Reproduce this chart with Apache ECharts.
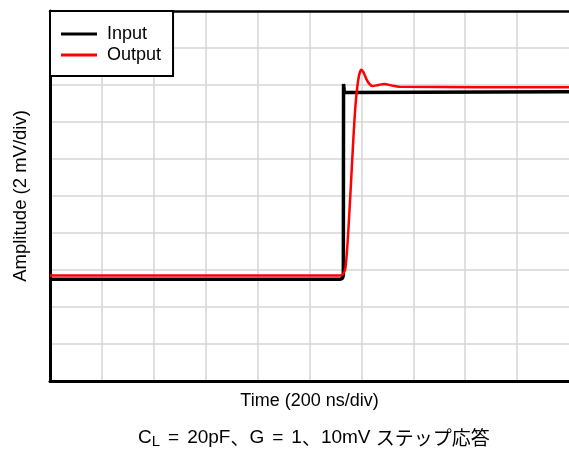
<!DOCTYPE html>
<html>
<head>
<meta charset="utf-8">
<script src="https://cdn.jsdelivr.net/npm/echarts@6/dist/echarts.min.js"></script>
<style>
html,body{margin:0;padding:0;background:#fff;}
#c{width:569px;height:451px;}
</style>
</head>
<body>
<div id="c"></div>
<script>
// Time in divisions (200 ns/div), amplitude in divisions (2 mV/div)
var inputTime = [0, 5.596, 5.635, 5.652, 5.656, 5.672, 10];
var inputAmp  = [2.75, 2.75, 2.78, 2.85, 8.03, 7.80, 7.82];

var outputTime = [0, 5.596, 5.654, 5.692, 5.731, 5.769, 5.808, 5.846, 5.885, 5.923, 5.962, 6.0, 6.038, 6.096, 6.154, 6.212, 6.327, 6.442, 6.577, 6.731, 10];
var outputAmp  = [2.85, 2.85, 2.91, 3.05, 3.68, 4.57, 5.57, 6.57, 7.43, 7.97, 8.30, 8.41, 8.35, 8.16, 8.03, 7.97, 8.0, 8.03, 7.99, 7.95, 7.94];

var seriesNames = ['Input', 'Output'];
var xAxisTitle = 'Time (200 ns/div)';
var yAxisTitle = 'Amplitude (2 mV/div)';

function pairs(xs, ys) {
  var out = [];
  for (var i = 0; i < xs.length; i++) out.push([xs[i], ys[i]]);
  return out;
}

var FONT = '"Liberation Sans", Arial, "Noto Sans CJK JP", sans-serif';
var JFONT = '"Noto Sans CJK JP", sans-serif';
var chart = echarts.init(document.getElementById('c'), null, {renderer: 'canvas'});
chart.setOption({
  animation: false,
  backgroundColor: '#fff',
  textStyle: {fontFamily: FONT},
  title: {
    left: 138,
    top: 427,
    padding: 0,
    text: '{a|C}{s|L}{sp| }{a|=}{sp| }{a|20pF}{j|、}{a|G}{sp| }{a|=}{sp| }{a|1}{j|、}{a|10mV }{j|ステップ応答}',
    textStyle: {
      fontWeight: 'normal',
      rich: {
        a: {fontSize: 19, color: '#000', fontFamily: FONT, fontWeight: 'normal'},
        s: {fontSize: 15, color: '#000', fontFamily: FONT, fontWeight: 'normal', padding: [7, 0, 0, 0]},
        sp: {fontSize: 19, fontFamily: FONT, width: 8},
        j: {fontSize: 19, color: '#000', fontFamily: JFONT, fontWeight: 'normal'}
      }
    }
  },
  legend: {
    left: 50,
    top: 11,
    orient: 'vertical',
    data: seriesNames,
    icon: 'rect',
    backgroundColor: '#fff',
    borderColor: '#000',
    borderWidth: 2,
    padding: [14, 12, 12, 11],
    itemWidth: 36,
    itemHeight: 3,
    itemGap: 3,
    z: 10,
    textStyle: {fontSize: 18, color: '#000', fontFamily: FONT, padding: [0, 0, 0, 5]}
  },
  grid: {
    left: 50, top: 11, width: 521, height: 370,
    show: false
  },
  xAxis: [{
    type: 'value', min: 0, max: 10, interval: 1,
    name: xAxisTitle, nameLocation: 'middle', nameGap: 11,
    nameTextStyle: {fontSize: 18, color: '#000', fontFamily: FONT},
    axisLine: {show: true, lineStyle: {color: '#000', width: 3}},
    axisTick: {show: false}, axisLabel: {show: false},
    splitLine: {show: true, showMinLine: false, showMaxLine: false, lineStyle: {color: '#d6d6d6', width: 1.5}}
  }, {
    type: 'value', min: 0, max: 10, interval: 1, position: 'top',
    axisLine: {show: true, onZero: false, lineStyle: {color: '#000', width: 2.5}},
    axisTick: {show: false}, axisLabel: {show: false}, splitLine: {show: false}
  }],
  yAxis: {
    type: 'value', min: 0, max: 10, interval: 1,
    name: yAxisTitle, nameLocation: 'middle', nameGap: 20,
    nameTextStyle: {fontSize: 18.5, color: '#000', fontFamily: FONT},
    axisLine: {show: true, lineStyle: {color: '#000', width: 3}},
    axisTick: {show: false}, axisLabel: {show: false},
    splitLine: {show: true, showMinLine: false, showMaxLine: false, lineStyle: {color: '#d6d6d6', width: 1.5}}
  },
  series: [
    {
      name: seriesNames[0], type: 'line', symbol: 'none', showSymbol: false,
      data: pairs(inputTime, inputAmp),
      lineStyle: {color: '#000', width: 3.5},
      itemStyle: {color: '#000'},
      z: 3
    },
    {
      name: seriesNames[1], type: 'line', symbol: 'none', showSymbol: false,
      smooth: 0.25,
      data: pairs(outputTime, outputAmp),
      lineStyle: {color: '#ff0000', width: 2.5},
      itemStyle: {color: '#ff0000'},
      z: 4
    }
  ]
});
</script>
</body>
</html>
